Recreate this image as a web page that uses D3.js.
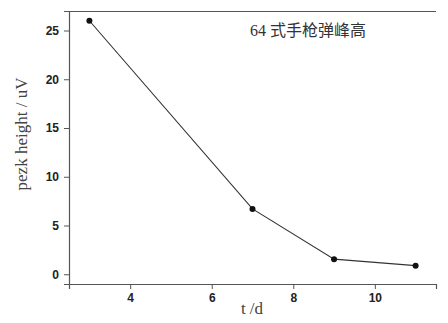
<!DOCTYPE html>
<html><head><meta charset="utf-8">
<script src="https://cdn.jsdelivr.net/npm/d3@7"></script>
<style>body{margin:0;background:#fff}svg{display:block}</style>
</head><body>
<script>
const days = [3, 7, 9, 11];
const peakHeight = [26, 6.7, 1.55, 0.88];
const xTicks = [4, 6, 8, 10];
const yTicks = [0, 5, 10, 15, 20, 25];
const titleText = "64 式手枪弹峰高";
const xLabel = "t /d";
const yLabel = "pezk height / uV";

const W = 448, H = 323;
const m = {left: 69, right: 12, top: 11, bottom: 39};
const svg = d3.select("body").append("svg").attr("width", W).attr("height", H);
const x = d3.scaleLinear().domain([2.5, 11.5]).range([m.left, W - m.right]);
const y = d3.scaleLinear().domain([-1, 27]).range([H - m.bottom, m.top]);

const axisColor = "#555";
// top frame line
svg.append("line").attr("x1", m.left).attr("x2", W - m.right)
  .attr("y1", m.top + 0.5).attr("y2", m.top + 0.5)
  .attr("stroke", axisColor).attr("stroke-width", 1.2);

// minor + major ticks
const gx = svg.append("g").attr("transform", `translate(0,${H - m.bottom})`);
gx.call(d3.axisBottom(x).tickValues(d3.range(3, 12, 1)).tickSize(3).tickFormat(""))
gx.call(d3.axisBottom(x).tickValues(xTicks).tickSize(5).tickPadding(4).tickFormat(d3.format("d")));
const gy = svg.append("g").attr("transform", `translate(${m.left},0)`);
gy.call(d3.axisLeft(y).tickValues(d3.range(-1, 27, 1)).tickSize(3).tickFormat(""));
gy.call(d3.axisLeft(y).tickValues(yTicks).tickSize(5).tickPadding(5).tickFormat(d3.format("d")));
svg.selectAll(".domain").attr("stroke", axisColor).attr("stroke-width", 1.2);
svg.selectAll(".tick line").attr("stroke", axisColor);
svg.selectAll(".tick text").attr("font-family", "Liberation Sans, Arial, sans-serif")
  .attr("font-weight", "bold").attr("font-size", 12).attr("fill", "#222");

// line
const pts = days.map((d, i) => [d, peakHeight[i]]);
svg.append("path").datum(pts)
  .attr("d", d3.line().x(d => x(d[0])).y(d => y(d[1])))
  .attr("fill", "none").attr("stroke", "#333").attr("stroke-width", 1.1);
svg.selectAll("circle.pt").data(pts).enter().append("circle")
  .attr("cx", d => x(d[0])).attr("cy", d => y(d[1])).attr("r", 3).attr("fill", "#111");

// title
svg.append("text").attr("x", 250).attr("y", 36)
  .attr("font-family", "Liberation Serif, 'Noto Sans CJK SC', serif")
  .attr("font-size", 16).attr("fill", "#333").text(titleText);

// axis labels
svg.append("text").attr("x", 252).attr("y", 314).attr("text-anchor", "middle")
  .attr("font-family", "Liberation Serif, serif").attr("font-size", 17).attr("fill", "#444").text(xLabel);
svg.append("text").attr("transform", "translate(27,134) rotate(-90)").attr("text-anchor", "middle")
  .attr("font-family", "Liberation Serif, serif").attr("font-size", 17).attr("fill", "#444").text(yLabel);
</script>
</body></html>
